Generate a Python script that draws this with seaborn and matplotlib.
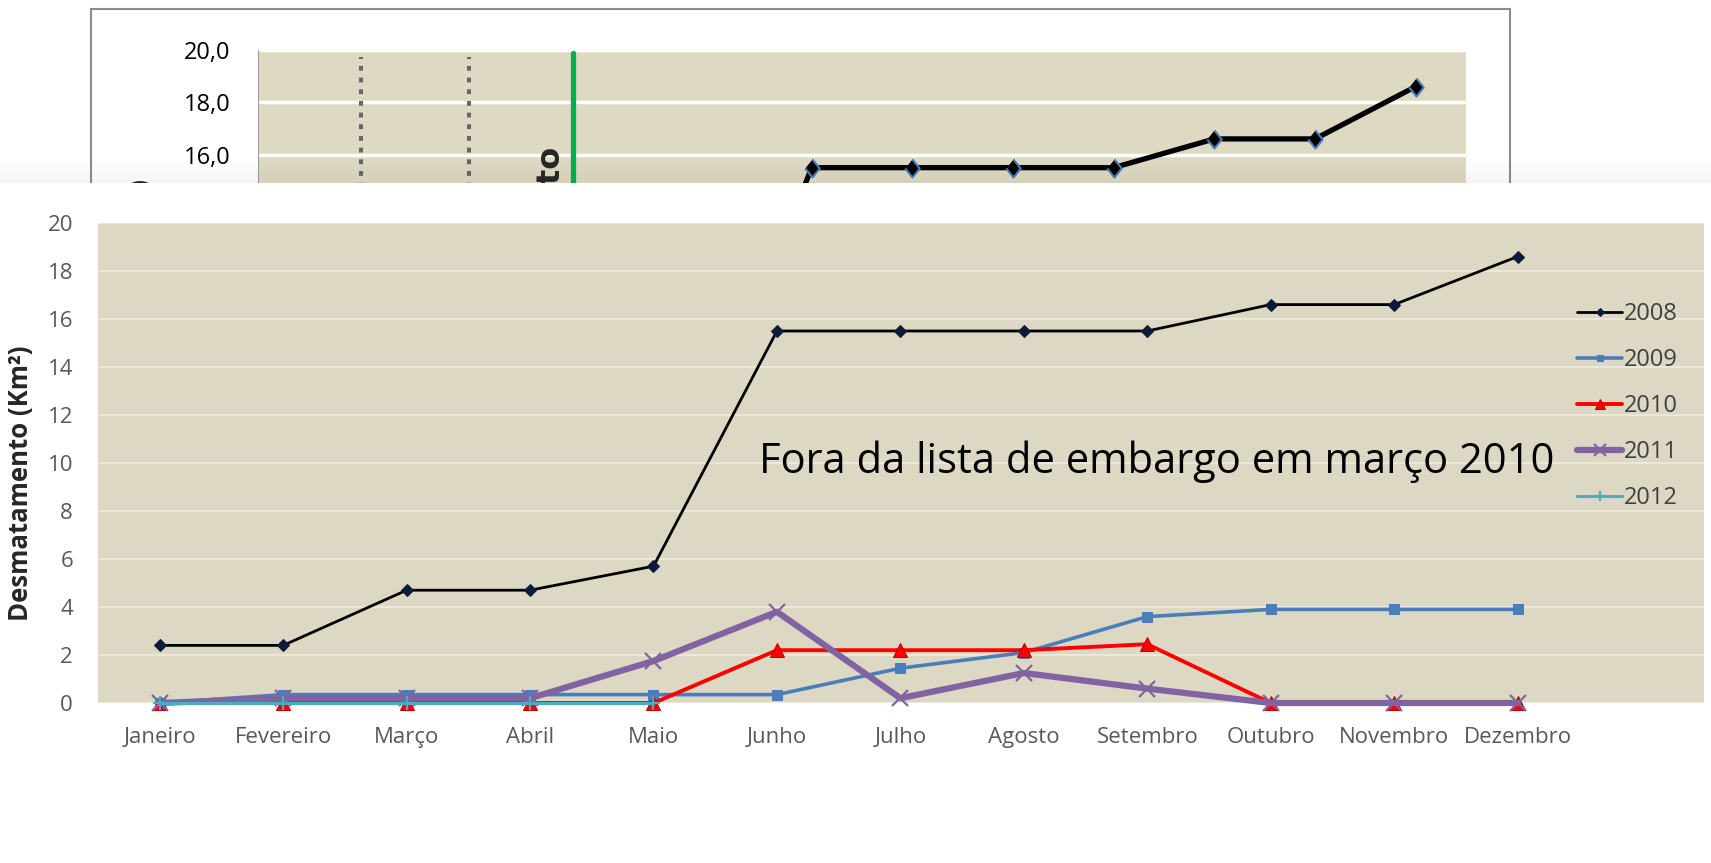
import matplotlib.pyplot as plt
from matplotlib.patches import Rectangle
from matplotlib.ticker import FuncFormatter
import seaborn as sns

# dados (Km2)
meses = ["Janeiro", "Fevereiro", "Março", "Abril", "Maio", "Junho",
         "Julho", "Agosto", "Setembro", "Outubro", "Novembro", "Dezembro"]
d2008 = [2.4, 2.4, 4.7, 4.7, 5.7, 15.5, 15.5, 15.5, 15.5, 16.6, 16.6, 18.6]
d2009 = [0.0, 0.35, 0.35, 0.35, 0.35, 0.35, 1.45, 2.1, 3.6, 3.9, 3.9, 3.9]
d2010 = [0.0, 0.0, 0.0, 0.0, 0.0, 2.2, 2.2, 2.2, 2.45, 0.0, 0.0, 0.0]
d2011 = [0.0, 0.2, 0.2, 0.2, 1.75, 3.8, 0.2, 1.25, 0.6, 0.0, 0.0, 0.0]
d2012 = [0.0, 0.0, 0.0, 0.0, 0.0]
anos = ["2008", "2009", "2010", "2011", "2012"]
series = [d2008, d2009, d2010, d2011, d2012]

# grafico de tras (parcialmente coberto)
marcos_pontilhados = [0.52, 1.6]
marco_verde = 2.63
texto_marco = "Assinatura do Pacto"
nota = "Fora da lista de embargo em março 2010"

W, H = 1711, 863
sns.set_style("white")
plt.rcParams['font.family'] = ['Open Sans', 'DejaVu Sans']

fig = plt.figure(figsize=(W / 100, H / 100), dpi=100)


def px(x0, y0, x1, y1):
    return [x0 / W, 1 - y1 / H, (x1 - x0) / W, (y1 - y0) / H]


pos = list(range(len(meses)))

# ---- grafico de tras ----
fig.add_artist(Rectangle((91 / W, 1 - 760 / H), (1510 - 91) / W, (760 - 9) / H,
                         transform=fig.transFigure, facecolor="white",
                         edgecolor="#8c8c8c", lw=1.5, zorder=-1))
ax_t = fig.add_axes(px(258, 50, 1466, 573))
ax_t.set_zorder(0)
ax_t.set_facecolor("#ddd9c3")
sns.lineplot(x=pos, y=d2008, ax=ax_t, color="black", lw=3.8, marker=(
    [(0, 1), (0.8, 0), (0, -1), (-0.8, 0)]), ms=13, mfc="black", mec="#4a7ebb",
    mew=1.5, sort=False)
for xv in marcos_pontilhados:
    ax_t.plot([xv, xv], [0, 19.73], color="#666666", lw=2.9,
              linestyle=(0, (1.2, 1.7)))
ax_t.plot([marco_verde, marco_verde], [0, 19.9], color="#00b050", lw=3.8)
ax_t.set_xlim(-0.5, 11.5)
ax_t.set_ylim(0, 20)
ax_t.set_yticks(range(0, 21, 2))
ax_t.yaxis.set_major_formatter(FuncFormatter(lambda v, p: f"{v:.1f}".replace(".", ",")))
ax_t.set_xticks([])
ax_t.grid(axis="y", color="white", lw=2.5)
ax_t.tick_params(axis="y", length=0, labelsize=17, pad=20, labelcolor="black")
for s in ["top", "right", "bottom"]:
    ax_t.spines[s].set_visible(False)
ax_t.spines["left"].set_color("#a0a0a0")
fig.text(142 / W, 1 - 179 / H, "Desmatamento (Km²)", rotation=90, ha="center",
         va="top", fontsize=18, fontweight="bold", zorder=0.5)
fig.text(552 / W, 1 - 147 / H, texto_marco, rotation=90, ha="center", va="top",
         fontsize=23, fontweight="bold", family="DejaVu Sans", zorder=0.5)

# sombra e painel branco por cima
for i in range(14):
    y0 = 156 + i * 2
    fig.add_artist(Rectangle((0, 1 - (y0 + 2) / H), 1, 2 / H, transform=fig.transFigure,
                             facecolor="black", alpha=0.006 * i / 2, lw=0, zorder=0.9))
fig.add_artist(Rectangle((0, 0), 1, 1 - 183 / H, transform=fig.transFigure,
                         facecolor="white", lw=0, zorder=1))

# ---- grafico da frente ----
ax = fig.add_axes(px(98, 223, 1704, 703))
ax.set_zorder(2)
ax.set_facecolor("#ddd8c4")
estilos = [
    dict(color="black", lw=2.0, marker="D", ms=6.5, mfc="#0d1b3a", mec="#0d1b3a"),
    dict(color="#4a7ebb", lw=2.6, marker="s", ms=7, mfc="#4a7ebb", mec="#4a7ebb"),
    dict(color="#ff0000", lw=2.8, marker="^", ms=10, mfc="#ff0000", mec="#c00000"),
    dict(color="#8064a2", lw=4.5, marker="x", ms=12, mew=1.6, mec="#8064a2"),
    dict(color="#4bacc6", lw=2.2, marker="+", ms=10, mew=1.6, mec="#4bacc6"),
]
for ano, vals, st in zip(anos, series, estilos):
    sns.lineplot(x=pos[:len(vals)], y=vals, ax=ax, label=ano, sort=False,
                 clip_on=False, **st)

ax.set_xlim(-0.5, 12.51)
ax.set_ylim(0, 20)
ax.set_yticks(range(0, 21, 2))
ax.set_xticks(pos, meses)
ax.grid(axis="y", color="#ebe7da", lw=1.5)
ax.set_axisbelow(True)
ax.tick_params(axis="y", length=0, labelsize=16, pad=18, labelcolor="#595959")
ax.tick_params(axis="x", length=0, labelsize=16, pad=17, labelcolor="#595959")
for s in ax.spines.values():
    s.set_visible(False)
ax.set_ylabel("Desmatamento (Km²)", fontsize=18.5, fontweight="bold", color="#262626")
ax.yaxis.set_label_coords(-0.040, 0.458)

ax.text(8.08, 10.04, nota, fontsize=30, ha="center", va="center", color="black")

h, l = ax.get_legend_handles_labels()
ax.legend(h, l, loc="center left", bbox_to_anchor=(0.921, 0.619), frameon=False,
          fontsize=17, labelcolor="#404040", handlelength=1.9, handletextpad=0.1,
          labelspacing=0.93, borderpad=0, borderaxespad=0, markerscale=0.7)

fig.savefig("out.png", dpi=100)
